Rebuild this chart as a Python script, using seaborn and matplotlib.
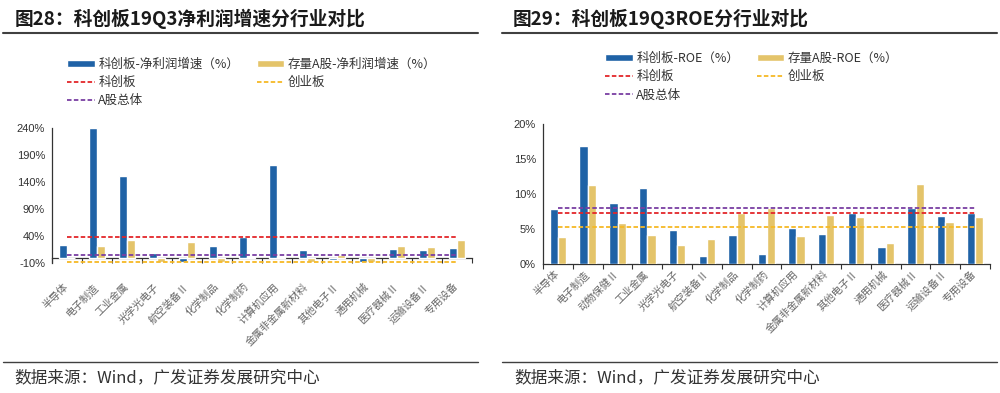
import numpy as np
import pandas as pd
import matplotlib
matplotlib.use("Agg")
import matplotlib.pyplot as plt
import seaborn as sns
from matplotlib.patches import Patch
from matplotlib.lines import Line2D

# --- data ---
LEFT_INDUSTRIES = ["半导体", "电子制造", "工业金属", "光学光电子", "航空装备Ⅱ", "化学制品", "化学制药",
                   "计算机应用", "金属非金属新材料", "其他电子Ⅱ", "通用机械", "医疗器械Ⅱ", "运输设备Ⅱ", "专用设备"]
LEFT_KCB_GROWTH = [24, 240, 152, 9, -9, 22, 38, 172, 14, -5, -9, 16, 14, 17]
LEFT_A_GROWTH = [-1, 22, 32, -9, 29, -9, 1, 1, -9, 4, -8, 22, 19, 32]
LEFT_SERIES = ["科创板-净利润增速（%）", "存量A股-净利润增速（%）"]
LEFT_REFS = [38, -7.5, 5]          # 科创板, 创业板, A股总体
LEFT_YTICKS = [-10, 40, 90, 140, 190, 240]

RIGHT_INDUSTRIES = ["半导体", "电子制造", "动物保健Ⅱ", "工业金属", "光学光电子", "航空装备Ⅱ", "化学制品",
                    "化学制药", "计算机应用", "金属非金属新材料", "其他电子Ⅱ", "通用机械", "医疗器械Ⅱ",
                    "运输设备Ⅱ", "专用设备"]
RIGHT_KCB_ROE = [7.9, 16.9, 8.7, 10.9, 4.9, 1.2, 4.2, 1.4, 5.2, 4.4, 7.4, 2.5, 8.1, 6.9, 7.3]
RIGHT_A_ROE = [3.9, 11.4, 5.9, 4.2, 2.7, 3.6, 7.3, 8.1, 4.0, 7.1, 6.8, 3.1, 11.5, 6.1, 6.7]
RIGHT_SERIES = ["科创板-ROE（%）", "存量A股-ROE（%）"]
RIGHT_REFS = [7.4, 5.3, 8.1]
RIGHT_YTICKS = [0, 5, 10, 15, 20]

REF_NAMES = ["科创板", "创业板", "A股总体"]

BLUE = "#1F62A6"
GOLD = "#E4C46A"
RED = "#E3262A"
YELLOW = "#F6B925"
PURPLE = "#7A3FA3"
DASH = (0, (2.5, 1.3))

sns.set_style("white")
plt.rcParams["font.family"] = ["Noto Sans CJK SC", "DejaVu Sans"]
NUM_FONT = ["Liberation Sans", "DejaVu Sans"]


def draw_panel(ax, industries, kcb_vals, a_vals, series, refs, yticks, label_pad):
    n = len(industries)
    df = pd.DataFrame({
        "行业": industries * 2,
        "系列": [series[0]] * n + [series[1]] * n,
        "值": kcb_vals + a_vals,
    })
    sns.barplot(data=df, x="行业", y="值", hue="系列", hue_order=series,
                palette=[BLUE, GOLD], width=0.56, gap=0, saturation=1,
                legend=False, ax=ax, zorder=2)
    xs = np.arange(n)
    for val, color in zip(refs, [RED, YELLOW, PURPLE]):
        ax.plot(xs, np.full(n, val), color=color, lw=1.3, ls=DASH, zorder=3)

    ax.set_xlim(-0.5, n - 0.5)
    ax.set_ylim(yticks[0], yticks[-1])
    ax.set_yticks(yticks)
    ax.set_yticklabels([f"{v}%" for v in yticks], fontsize=8, color="#333333", family=NUM_FONT)
    ax.tick_params(axis="y", direction="out", length=3, width=0.8, color="#333333", pad=2)
    ax.set_xticks(xs)
    ax.set_xticklabels(industries, rotation=45, ha="right", va="center",
                       rotation_mode="anchor", fontsize=7.5, color="#666666")
    ax.tick_params(axis="x", which="major", length=0, pad=label_pad)
    ax.set_xlabel("")
    ax.set_ylabel("")
    for side in ["top", "right"]:
        ax.spines[side].set_visible(False)
    ax.spines["left"].set_color("#333333")
    ax.spines["left"].set_linewidth(0.9)

    # category axis sits at y = 0, with tick marks between categories
    zero_frac = (0 - yticks[0]) / (yticks[-1] - yticks[0])
    ax.spines["bottom"].set_visible(False)
    sec = ax.secondary_xaxis(zero_frac)
    sec.set_xticks(np.arange(n + 1) - 0.5)
    sec.set_xticklabels([])
    sec.tick_params(direction="out", length=3.5, width=0.8, color="#333333")
    sec.spines["bottom"].set_color("#333333")
    sec.spines["bottom"].set_linewidth(0.9)

    handles = [Patch(facecolor=BLUE),
               Line2D([], [], color=RED, lw=1.3, ls=DASH),
               Line2D([], [], color=PURPLE, lw=1.3, ls=DASH),
               Patch(facecolor=GOLD),
               Line2D([], [], color=YELLOW, lw=1.3, ls=DASH)]
    labels = [series[0], REF_NAMES[0], REF_NAMES[2], series[1], REF_NAMES[1]]
    return handles, labels


fig = plt.figure(figsize=(10, 3.93), dpi=100)
ax_l = fig.add_axes([0.052, 0.331, 0.420, 0.343])
ax_r = fig.add_axes([0.543, 0.3275, 0.447, 0.356])

h, l = draw_panel(ax_l, LEFT_INDUSTRIES, LEFT_KCB_GROWTH, LEFT_A_GROWTH,
                  LEFT_SERIES, LEFT_REFS, LEFT_YTICKS, label_pad=16)
fig.legend(h, l, loc="upper left", bbox_to_anchor=(0.067, 0.853), ncol=2, frameon=False,
           fontsize=9, borderpad=0, borderaxespad=0, handlelength=2.2, handleheight=0.5,
           handletextpad=0.3, labelspacing=0.42, columnspacing=1.4, labelcolor="#333333")

h, l = draw_panel(ax_r, RIGHT_INDUSTRIES, RIGHT_KCB_ROE, RIGHT_A_ROE,
                  RIGHT_SERIES, RIGHT_REFS, RIGHT_YTICKS, label_pad=6)
fig.legend(h, l, loc="upper left", bbox_to_anchor=(0.605, 0.868), ncol=2, frameon=False,
           fontsize=9, borderpad=0, borderaxespad=0, handlelength=2.2, handleheight=0.5,
           handletextpad=0.3, labelspacing=0.42, columnspacing=1.4, labelcolor="#333333")

# titles, rules and source notes
fig.text(0.015, 0.952, "图28：科创板19Q3净利润增速分行业对比", fontsize=13.5, fontweight="bold",
         color="#1a1a1a", va="center")
fig.text(0.513, 0.952, "图29：科创板19Q3ROE分行业对比", fontsize=13.5, fontweight="bold",
         color="#1a1a1a", va="center")
for x0, x1 in [(0.003, 0.478), (0.502, 0.997)]:
    fig.add_artist(Line2D([x0, x1], [0.916, 0.916], color="#404040", lw=1.5))
    fig.add_artist(Line2D([x0, x1], [0.080, 0.080], color="#404040", lw=1.0))
for x0 in [0.014, 0.514]:
    fig.text(x0, 0.038, "数据来源：Wind，广发证券发展研究中心", fontsize=12,
             color="#333333", va="center")

fig.savefig("out.png", dpi=100)
